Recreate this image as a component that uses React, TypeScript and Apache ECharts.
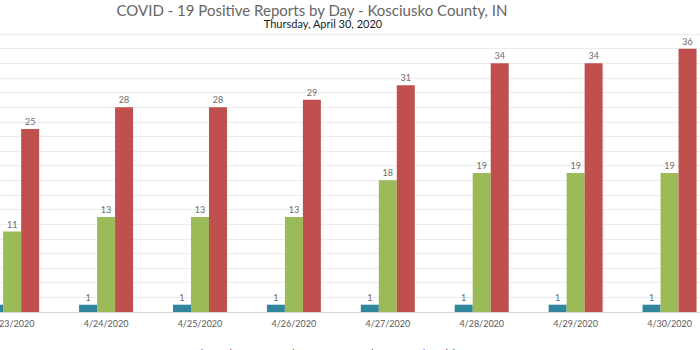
import React, { useEffect, useRef } from "react";
import * as echarts from "echarts";

const categories = ["4/23/2020", "4/24/2020", "4/25/2020", "4/26/2020", "4/27/2020", "4/28/2020", "4/29/2020", "4/30/2020"];
const totalDeaths = [1, 1, 1, 1, 1, 1, 1, 1];
const recovered = [11, 13, 13, 13, 18, 19, 19, 19];
const positiveTests = [25, 28, 28, 29, 31, 34, 34, 36];
const seriesNames = ["Total Deaths", "Number of Recovered", "Total Positive Tests"];
const titleText = "COVID - 19 Positive Reports by Day - Kosciusko County, IN";
const subtitleText = "Thursday, April 30, 2020";

const OFFSET = 40;
const FONT = "Lato, 'Open Sans', sans-serif";

export default function App() {
  const ref = useRef<HTMLDivElement>(null);
  useEffect(() => {
    if (!ref.current) return;
    const chart = echarts.init(ref.current, null, { renderer: "svg" });
    const label = {
      show: true,
      position: "top" as const,
      distance: 3,
      fontSize: 9,
      color: "#6b6b6b",
      fontFamily: FONT,
    };
    chart.setOption({
      animation: false,
      textStyle: { fontFamily: FONT },
      graphic: [
        {
          type: "text",
          x: 312 + OFFSET,
          y: 9.5,
          style: {
            text: titleText,
            textAlign: "center",
            textVerticalAlign: "middle",
            fontSize: 15,
            fontFamily: FONT,
            fill: "#666666",
          },
        },
        {
          type: "text",
          x: 323 + OFFSET,
          y: 23.5,
          style: {
            text: subtitleText,
            textAlign: "center",
            textVerticalAlign: "middle",
            fontSize: 11,
            fontFamily: FONT,
            fill: "#1a1a1a",
          },
        },
      ],
      legend: {
        data: seriesNames,
        left: 165 + OFFSET,
        top: 343,
        itemWidth: 7,
        itemHeight: 7,
        itemGap: 18,
        icon: "rect",
        textStyle: { fontSize: 11, color: "#595959", fontFamily: FONT, padding: [0, 0, 0, -2] },
      },
      grid: {
        left: -34.8 + OFFSET,
        right: 760 - (716.5 + OFFSET),
        top: 34,
        bottom: 38,
        containLabel: false,
        outerBoundsMode: "none",
      },
      xAxis: {
        type: "category",
        data: categories,
        axisLine: { lineStyle: { color: "#d9d9d9" } },
        axisTick: { show: false },
        axisLabel: { fontSize: 9, color: "#595959", margin: 7, fontFamily: FONT },
      },
      yAxis: {
        type: "value",
        min: 0,
        max: 38,
        interval: 2,
        axisLabel: { show: false },
        axisLine: { show: false },
        axisTick: { show: false },
        splitLine: { lineStyle: { color: "#ececec" } },
      },
      series: [
        { name: seriesNames[0], type: "bar", data: totalDeaths, barWidth: 18, barGap: "0%", itemStyle: { color: "#31859C" }, label },
        { name: seriesNames[1], type: "bar", data: recovered, barWidth: 18, barGap: "0%", itemStyle: { color: "#9BBB59" }, label },
        { name: seriesNames[2], type: "bar", data: positiveTests, barWidth: 18, barGap: "0%", itemStyle: { color: "#C0504D" }, label },
      ],
    });
    return () => chart.dispose();
  }, []);
  return (
    <div style={{ position: "fixed", left: 0, top: 0, width: 700, height: 350, overflow: "hidden", background: "#fff" }}>
      <div ref={ref} style={{ position: "absolute", left: -OFFSET, top: 0, width: 760, height: 350 }} />
    </div>
  );
}
